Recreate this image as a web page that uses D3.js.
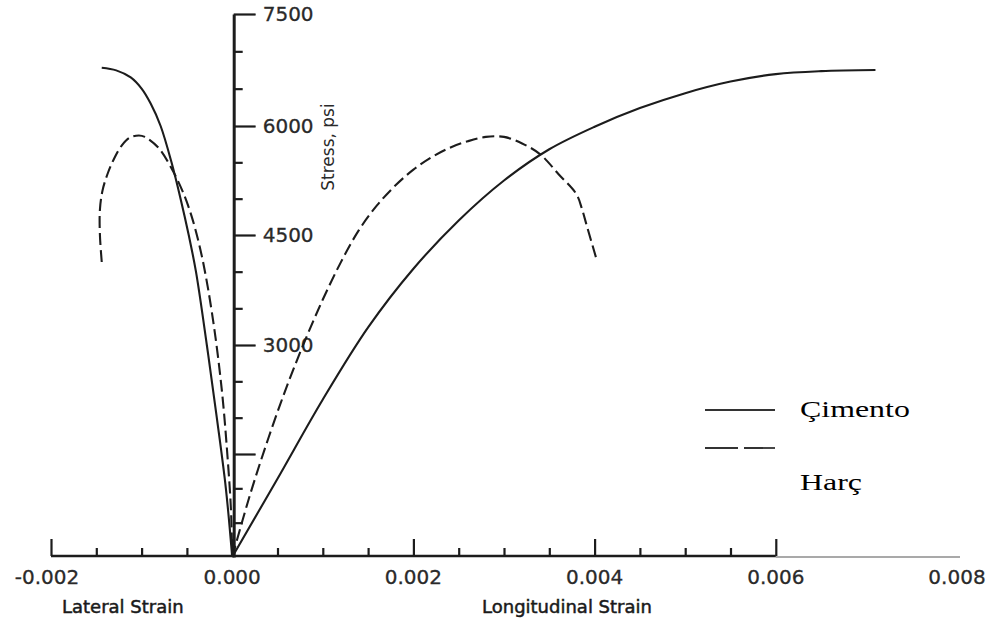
<!DOCTYPE html>
<html><head><meta charset="utf-8">
<script src="https://cdn.jsdelivr.net/npm/d3@7"></script>
<style>body{margin:0;background:#fff}svg{display:block}</style>
</head><body>
<svg id="chart" width="993" height="630"></svg>
<script>
// ---- data ----
const xMajorTicks = [-0.002, 0, 0.002, 0.004, 0.006];
const xMinorTicks = [-0.0015, -0.001, -0.0005, 0.0005, 0.001, 0.0015, 0.0025, 0.003, 0.0035, 0.0045, 0.005, 0.0055];
const xTickValues = [-0.002, 0, 0.002, 0.004, 0.006, 0.008];
const xTickLabels = ["-0.002", "0.000", "0.002", "0.004", "0.006", "0.008"];
const yMajorTicks = [1500, 3000, 4500, 6000, 7500];
const yMinorTicks = [500, 1000, 2000, 2500, 3500, 4000, 5000, 5500, 6500, 7000];
const yTickValues = [3000, 4500, 6000, 7500];
const yTickLabels = ["3000", "4500", "6000", "7500"];
const seriesNames = ["Çimento", "Harç"];
const axisTitles = ["Lateral Strain", "Longitudinal Strain", "Stress, psi"];

// Çimento (solid) – longitudinal branch
const cimentoLongStrain = [0, 0.0005, 0.001, 0.0015, 0.002, 0.0025, 0.003, 0.0035, 0.004, 0.0045, 0.005, 0.0055, 0.006, 0.0065, 0.0071];
const cimentoLongStress = [0, 1140, 2250, 3240, 4040, 4700, 5250, 5680, 5990, 6240, 6440, 6595, 6695, 6735, 6750];
// Çimento (solid) – lateral branch
const cimentoLatStrain = [-0.00144, -0.00128, -0.00112, -0.001, -0.0009, -0.00079, -0.00067, -0.00057, -0.00048, -0.0004, -0.00028, -0.00017, -0.00007, 0];
const cimentoLatStress = [6780, 6745, 6650, 6500, 6300, 6000, 5500, 5000, 4500, 4000, 3000, 2000, 1000, 0];
// Harç (dashed) – longitudinal branch
const harcLongStrain = [0, 0.0002, 0.0004, 0.0006, 0.0008, 0.001, 0.0012, 0.0014, 0.0016, 0.0018, 0.002, 0.0022, 0.0024, 0.0026, 0.0028, 0.003, 0.0032, 0.0034, 0.0036, 0.0038, 0.00386, 0.00392, 0.00403];
const harcLongStress = [0, 920, 1720, 2420, 3050, 3620, 4130, 4570, 4910, 5180, 5400, 5570, 5700, 5790, 5850, 5850, 5760, 5610, 5340, 5060, 4860, 4600, 4132];
// Harç (dashed) – lateral branch
const harcLatStrain = [-0.00144, -0.00146, -0.00146, -0.00143, -0.00137, -0.0013, -0.00122, -0.00113, -0.00103, -0.000964, -0.000814, -0.000684, -0.000547, -0.000446, -0.000351, -0.000271, -0.000184, -0.000108, -0.000054, -0.000014, 0];
const harcLatStress = [4132, 4500, 4850, 5120, 5360, 5560, 5730, 5840, 5870, 5850, 5700, 5450, 5100, 4750, 4300, 3800, 3100, 2300, 1500, 700, 0];

// ---- chart ----
const svg = d3.select("#chart");
svg.append("rect").attr("width", 993).attr("height", 630).attr("fill", "#fff");

const x = d3.scaleLinear().domain([-0.002, 0.008]).range([51, 957]);
const y = d3.scaleLinear().domain([0, 1500, 3000, 4500, 6000, 7500]).range([557, 454, 345, 235, 126, 14]);

const ink = "#1c1c1c";
const axisY = 556;
const x0 = x(0) + 1.5;

// X axis line (thick part + thin extension)
svg.append("line").attr("x1", x(-0.002)).attr("x2", x(0.006)).attr("y1", axisY).attr("y2", axisY)
  .attr("stroke", ink).attr("stroke-width", 2.6);
svg.append("line").attr("x1", x(0.006)).attr("x2", x(0.008) + 3).attr("y1", axisY + 1).attr("y2", axisY + 1)
  .attr("stroke", "#555").attr("stroke-width", 1.2);

function xTicks(vals, size) {
  const g = svg.append("g").attr("transform", `translate(0,${axisY})`)
    .call(d3.axisTop(x).tickValues(vals).tickSize(size).tickSizeOuter(0).tickFormat(""));
  g.select(".domain").remove();
  g.selectAll(".tick line").attr("stroke", ink).attr("stroke-width", 2.2);
}
xTicks(xMajorTicks, 17);
xTicks(xMinorTicks, 8);

// X tick labels
svg.append("g").selectAll("text").data(xTickValues).join("text")
  .attr("x", d => x(d) + (d < 0 ? -4 : 0)).attr("y", 584)
  .attr("text-anchor", "middle")
  .attr("font-family", "DejaVu Sans").attr("font-size", 20)
  .attr("fill", "#2a2a2a").attr("stroke", "#2a2a2a").attr("stroke-width", 0.3)
  .text((d, i) => xTickLabels[i]);

// Y axis
const gy = svg.append("g").attr("transform", `translate(${x0},0)`)
  .call(d3.axisRight(y).tickValues(yMajorTicks).tickSize(22).tickSizeOuter(0).tickFormat(""));
gy.select(".domain").attr("stroke", ink).attr("stroke-width", 3);
gy.selectAll(".tick line").attr("stroke", ink).attr("stroke-width", 2.2);
const gy2 = svg.append("g").attr("transform", `translate(${x0},0)`)
  .call(d3.axisRight(y).tickValues(yMinorTicks).tickSize(9).tickSizeOuter(0).tickFormat(""));
gy2.select(".domain").remove();
gy2.selectAll(".tick line").attr("stroke", ink).attr("stroke-width", 2.2);

svg.append("g").selectAll("text").data(yTickValues).join("text")
  .attr("x", x0 + 29).attr("y", d => y(d)).attr("dy", "0.36em")
  .attr("font-family", "DejaVu Sans").attr("font-size", 20)
  .attr("fill", "#2a2a2a").attr("stroke", "#2a2a2a").attr("stroke-width", 0.3)
  .text((d, i) => yTickLabels[i]);

// Axis titles
svg.append("text").attr("x", 62).attr("y", 613)
  .attr("font-family", "DejaVu Sans").attr("font-size", 18)
  .attr("fill", "#1a1a1a").attr("stroke", "#1a1a1a").attr("stroke-width", 0.5)
  .text(axisTitles[0]);
svg.append("text").attr("x", 482).attr("y", 613)
  .attr("font-family", "DejaVu Sans").attr("font-size", 18)
  .attr("fill", "#1a1a1a").attr("stroke", "#1a1a1a").attr("stroke-width", 0.5)
  .text(axisTitles[1]);
svg.append("text").attr("transform", "translate(334,147) rotate(-90)")
  .attr("text-anchor", "middle")
  .attr("font-family", "DejaVu Sans").attr("font-size", 17)
  .attr("fill", "#2a2a2a")
  .text(axisTitles[2]);

// Curves
const line = d3.line().x(d => x(d[0])).y(d => y(d[1])).curve(d3.curveCatmullRom.alpha(0.5));
const zip = (a, b) => a.map((v, i) => [v, b[i]]);
const series = [
  { pts: zip(cimentoLongStrain, cimentoLongStress), dash: null },
  { pts: zip(cimentoLatStrain, cimentoLatStress), dash: null },
  { pts: zip(harcLongStrain, harcLongStress), dash: "12,5" },
  { pts: zip(harcLatStrain, harcLatStress), dash: "12,5" }
];
svg.append("g").selectAll("path").data(series).join("path")
  .attr("d", d => line(d.pts))
  .attr("fill", "none").attr("stroke", ink).attr("stroke-width", 2.1)
  .attr("stroke-dasharray", d => d.dash)
  .attr("stroke-linecap", "butt").attr("stroke-linejoin", "round");

// Legend
const legend = svg.append("g");
const legendRows = [
  { name: seriesNames[0], ly: 410, ty: 417, dash: null },
  { name: seriesNames[1], ly: 448, ty: 490, dash: "33,6" }
];
legendRows.forEach(r => {
  legend.append("line").attr("x1", 705).attr("x2", 775).attr("y1", r.ly).attr("y2", r.ly)
    .attr("stroke", "#333").attr("stroke-width", 1.8).attr("stroke-dasharray", r.dash);
  legend.append("text").attr("transform", `translate(800,${r.ty}) scale(1.33,1)`)
    .attr("font-family", "Liberation Serif").attr("font-size", 24).attr("fill", "#000")
    .text(r.name);
});
</script>
</body></html>
